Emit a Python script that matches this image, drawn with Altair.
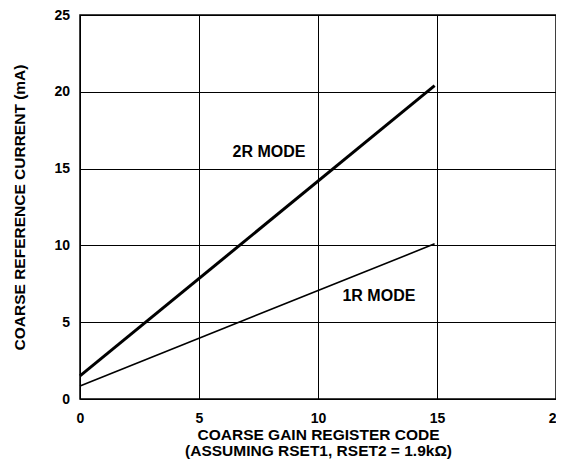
import altair as alt
import pandas as pd

# data
codes = [0, 14.9]
mode_2r = [1.5, 20.4]
mode_1r = [0.85, 10.1]
label_text = ["2R MODE", "1R MODE"]
label_x = [7.94, 12.56]
label_y = [16.05, 6.7]

x_ticks = [0, 5, 10, 15, 20]
y_ticks = [0, 5, 10, 15, 20, 25]

FONT = "Liberation Sans"

df = pd.DataFrame({
    "code": codes * 2,
    "current": mode_2r + mode_1r,
    "mode": ["2R"] * 2 + ["1R"] * 2,
    "width": [3.0] * 2 + [1.6] * 2,
})
lab = pd.DataFrame({"text": label_text, "x": label_x, "y": label_y})

xs = alt.Scale(domain=[0, 20], nice=False, zero=False)
ys = alt.Scale(domain=[0, 25], nice=False, zero=False)

x_axis = alt.Axis(
    values=x_ticks, grid=True, gridColor="black", gridOpacity=1, gridWidth=1,
    ticks=False, tickSize=0, labelPadding=12, labelFont=FONT, labelFontWeight="bold",
    labelFontSize=14, labelColor="black", domain=False,
    title=["COARSE GAIN REGISTER CODE", "(ASSUMING RSET1, RSET2 = 1.9k\u03a9)"],
    titleFont=FONT, titleFontWeight="bold", titleFontSize=15.5, titleColor="black",
    titleLineHeight=15.5, titleBaseline="alphabetic", titleY=40.5,
    labelFlush=False,
)
y_axis = alt.Axis(
    values=y_ticks, grid=True, gridColor="black", gridOpacity=1, gridWidth=1,
    ticks=False, tickSize=0, labelPadding=10.5, labelFont=FONT, labelFontWeight="bold",
    labelFontSize=14, labelColor="black", domain=False,
    title="COARSE REFERENCE CURRENT (mA)",
    titleFont=FONT, titleFontWeight="bold", titleFontSize=15.5, titleColor="black",
    titleBaseline="alphabetic", titleX=-56, titleY=192, titleAngle=270,
    labelFlush=False,
)

lines = alt.Chart(df).mark_line(color="black").encode(
    x=alt.X("code:Q", scale=xs, axis=x_axis),
    y=alt.Y("current:Q", scale=ys, axis=y_axis),
    detail="mode:N",
    strokeWidth=alt.StrokeWidth("width:Q", scale=None, legend=None),
)

texts = alt.Chart(lab).mark_text(
    font=FONT, fontWeight="bold", fontSize=16, color="black", align="center", baseline="middle"
).encode(
    x=alt.X("x:Q", scale=xs),
    y=alt.Y("y:Q", scale=ys),
    text="text:N",
)

chart = (lines + texts).properties(
    width=476, height=384,
    autosize=alt.AutoSizeParams(type="none"),
    padding={"left": 72, "top": 7, "right": 0, "bottom": 60},
    background="white",
).configure_view(stroke="black", strokeWidth=1.5)

chart.save("out.html", embed_options={"renderer": "svg", "actions": False})
